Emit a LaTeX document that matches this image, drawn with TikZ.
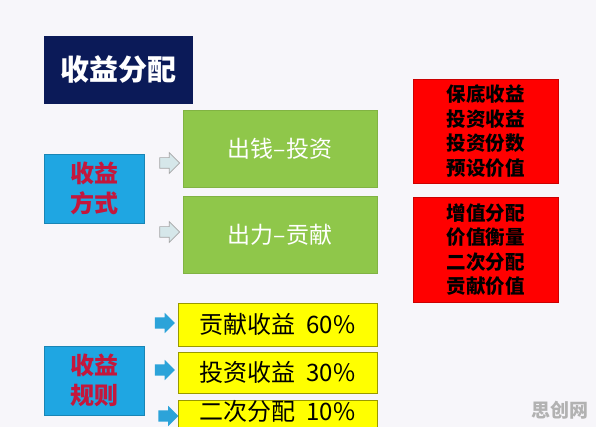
\documentclass[tikz,border=0pt]{standalone}
\usepackage{fontspec}
\setmainfont{Noto Sans CJK SC}
\usetikzlibrary{shapes.arrows}
\definecolor{bg}{HTML}{F7F6FA}
\definecolor{navy}{HTML}{0B1A58}
\definecolor{cyanbox}{HTML}{1FA6E2}
\definecolor{redtxt}{HTML}{C4173C}
\definecolor{greenbox}{HTML}{8FC74A}
\definecolor{redbox}{HTML}{FF0000}
\definecolor{yellowbox}{HTML}{FFFF00}
\definecolor{arrowblue}{HTML}{2CA3D9}
\definecolor{arrowlight}{HTML}{D6E7EA}
\tikzset{
  cyanb/.style={fill=cyanbox, draw=cyanbox!80!black, line width=0.5pt, inner sep=0pt, text=redtxt, font=\fontsize{24}{32}\selectfont\bfseries, align=center},
  greenb/.style={fill=greenbox, draw=greenbox!90!black, line width=0.5pt, text=white, font=\fontsize{23}{24}\selectfont, inner sep=0pt},
  redb/.style={fill=redbox, draw=redbox!80!black, line width=0.5pt, text=black, font=\fontsize{19.5}{24.5}\selectfont\bfseries, align=center, inner sep=0pt},
  yelb/.style={fill=yellowbox, draw=yellowbox!60!black, line width=0.6pt, inner sep=0pt},
  yeltxt/.style={text=black, font=\fontsize{24}{24}\selectfont, inner sep=0pt},
  larrow/.style={single arrow, fill=arrowlight, draw=gray!70, line width=0.7pt, minimum width=20pt, inner xsep=0pt, inner ysep=5pt, single arrow head extend=5pt, minimum height=20pt},
  barrow/.style={single arrow, fill=arrowblue, draw=none, minimum width=20pt, inner xsep=0pt, inner ysep=5.5pt, single arrow head extend=4.5pt, minimum height=20pt},
}
\begin{document}
\begin{tikzpicture}[x=1pt,y=-1pt]
\fill[bg] (0,0) rectangle (596,427);
\useasboundingbox (0,0) rectangle (596,427);
% title
\node[fill=navy, minimum width=149pt, minimum height=68pt, inner sep=0pt, text=white, font=\fontsize{29}{30}\selectfont\bfseries] (title) at (118.5,70) {收益分配};
% left blue boxes
\node[cyanb, minimum width=100pt, minimum height=69pt] (way) at (94,188.5) {收益\\[-2pt]方式};
\node[cyanb, minimum width=100pt, minimum height=69pt] (rule) at (94,380.5) {收益\\[-2pt]规则};
% green boxes
\node[greenb, minimum width=194pt, minimum height=77pt] (g1) at (280,148.5) {出钱–投资};
\node[greenb, minimum width=194pt, minimum height=77pt] (g2) at (280,235) {出力–贡献};
% light arrows
\node[larrow] (la1) at (167,163) {};
\node[larrow] (la2) at (167,232) {};
% red boxes
\node[redb, minimum width=145pt, minimum height=104pt] (r1) at (485.5,131) {保底收益\\投资收益\\投资份数\\预设价值};
\node[redb, minimum width=145pt, minimum height=105pt] (r2) at (485.5,249.5) {增值分配\\价值衡量\\二次分配\\贡献价值};
% yellow boxes
\node[yelb, minimum width=199pt, minimum height=43pt] (y1) at (277.5,324.5) {};
\node[yeltxt] (t1) at (y1) {贡献收益\ \ 60\%};
\node[yelb, minimum width=199pt, minimum height=41pt] (y2) at (277.5,372.5) {};
\node[yeltxt] (t2) at (y2) {投资收益\ \ 30\%};
\node[yelb, minimum width=199pt, minimum height=40pt] (y3) at (277.5,420) {};
\node[yeltxt] (t3) at (277.5,411) {二次分配\ \ 10\%};
% blue arrows
\node[barrow] (ba1) at (162,323) {};
\node[barrow] (ba2) at (162,370) {};
\node[barrow] (ba3) at (165.5,416) {};
% watermark
\node[text=gray!60, font=\fontsize{19}{20}\selectfont\bfseries] (wm) at (560,410) {思创网};
\end{tikzpicture}
\end{document}
